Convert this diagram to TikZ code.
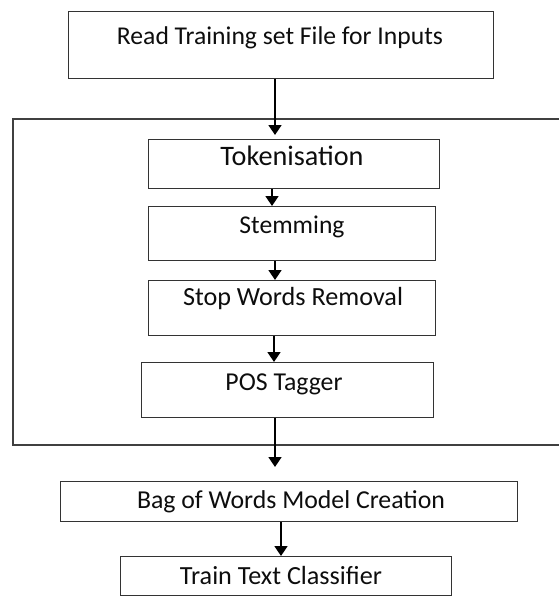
\documentclass[tikz,border=0pt]{standalone}
\usepackage{fontspec}
\setmainfont{Carlito}
\usetikzlibrary{arrows.meta}
\begin{document}
\begin{tikzpicture}[x=1pt,y=-1pt,
  box/.style={draw=black!80, line width=1.3pt, inner sep=0pt, anchor=north west},
  lbl/.style={inner sep=0pt, anchor=base, text=black!95},
  frame/.style={draw=black!75, line width=1.3pt},
  flow/.style={draw=black, line width=1.6pt, -{Triangle[width=13pt,length=10pt]}}]
\useasboundingbox (0,0) rectangle (558,597);
% boxes
\node[box, minimum width=425pt, minimum height=67pt] (read) at (68,11) {};
\node[box, minimum width=291pt, minimum height=49pt] (tok) at (148,139) {};
\node[box, minimum width=287pt, minimum height=54pt] (stem) at (148,206) {};
\node[box, minimum width=287pt, minimum height=55pt] (stop) at (148,280) {};
\node[box, minimum width=292pt, minimum height=55pt] (pos) at (141,362) {};
\node[box, minimum width=457pt, minimum height=40pt] (bag) at (60,481) {};
\node[box, minimum width=331pt, minimum height=39pt] (train) at (120,556) {};
% labels
\node[lbl] (readt) at (280,44) {\resizebox{326pt}{!}{Read Training set File for Inputs}};
\node[lbl] (tokt) at (292,165) {\resizebox{143pt}{!}{Tokenisation}};
\node[lbl] (stemt) at (292,233) {\resizebox{105pt}{!}{Stemming}};
\node[lbl] (stopt) at (293,305) {\resizebox{220pt}{!}{Stop Words Removal}};
\node[lbl] (post) at (284,390) {\resizebox{117pt}{!}{POS Tagger}};
\node[lbl] (bagt) at (291,508) {\resizebox{308pt}{!}{Bag of Words Model Creation}};
\node[lbl] (traint) at (281,584) {\resizebox{202pt}{!}{Train Text Classifier}};
% frame
\draw[frame] (562,119) -- (13,119) -- (13,445) -- (562,445);
% arrow columns
\coordinate (xa) at (275,0);
\coordinate (xb) at (272,0);
\coordinate (xc) at (274,0);
\coordinate (xd) at (281,0);
% arrows
\draw[flow, shorten >=4pt] (read.south -| xa) -- (tok.north -| xa);
\draw[flow] (tok.south -| xb) -- (stem.north -| xb);
\draw[flow] (stem.south -| xa) -- (stop.north -| xa);
\draw[flow] (stop.south -| xc) -- (pos.north -| xc);
\draw[flow, shorten >=14pt] (pos.south -| xa) -- (bag.north -| xa);
\draw[flow] (bag.south -| xd) -- (train.north -| xd);
\end{tikzpicture}
\end{document}
